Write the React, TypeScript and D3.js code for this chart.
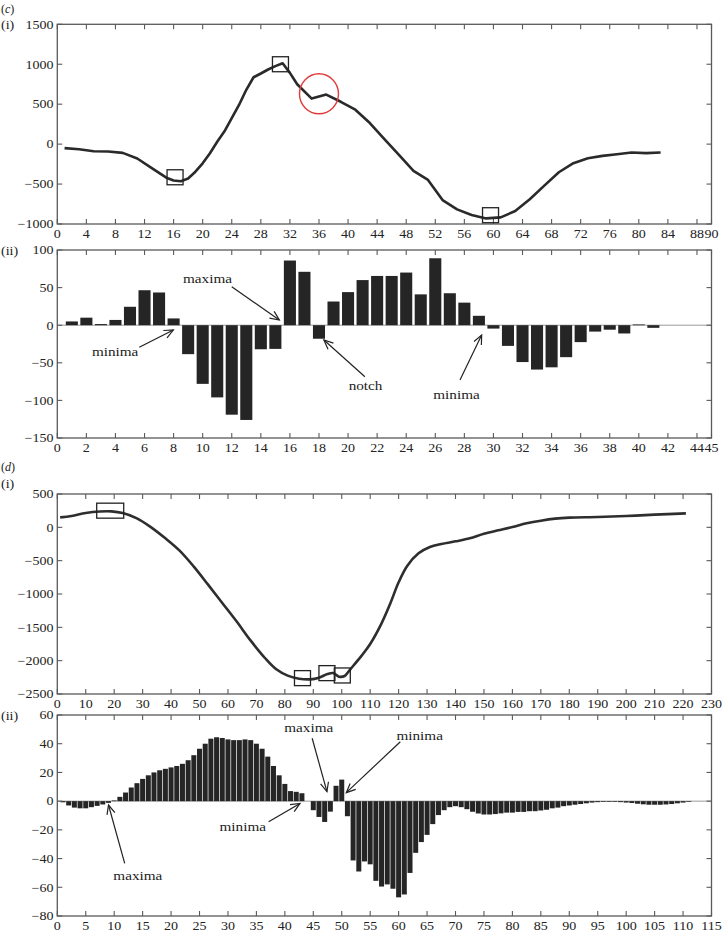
import React from 'react';
import * as d3 from 'd3';

// ---------- data ----------
// (c)(i) signal
const cLineX = [1, 3, 5, 7, 9, 11, 13, 15, 16, 17, 18, 19, 20, 21, 22, 23, 24, 25, 26, 27, 28, 29, 30, 31, 32, 33, 35, 37, 39, 41, 43, 45, 47, 49, 51, 53, 55, 57, 59, 61, 63, 65, 67, 69, 71, 73, 75, 77, 79, 81, 83];
const cLineY = [-50, -65, -90, -92, -110, -180, -300, -420, -455, -465, -430, -345, -240, -115, 30, 160, 325, 490, 680, 837, 884, 934, 976, 1012, 892, 750, 570, 620, 530, 431, 264, 63, -134, -335, -448, -700, -817, -888, -930, -917, -838, -691, -519, -352, -239, -176, -147, -126, -105, -113, -105];
const cSquareX = [16.2, 30.7, 59.6];
const cSquareY = [-415, 1000, -890];
const cCircleX = [36];
const cCircleY = [630];

// (c)(ii) derivative bars, index 1..41
const cBars = [5, 10, 1.5, 7, 24.5, 46.5, 43.5, 9, -38.5, -78, -96, -119, -126, -32, -31.5, 86, 71, -18, 31.5, 44, 60, 65.5, 65.5, 70, 41, 89, 42.5, 30, 12.5, -4.5, -27.5, -49, -59, -56, -42.5, -22.5, -8.5, -6, -11, 1, -3.5];

// (d)(i) signal
const dLineX = [1, 5, 10, 15, 19, 23, 28, 33, 38, 43, 48, 53, 58, 63, 68, 73, 77, 81, 85, 89, 92, 95, 97, 99, 101, 103, 107, 110, 114, 117, 120, 123, 127, 131, 135, 140, 145, 150, 155, 160, 165, 170, 175, 180, 190, 200, 210, 221];
const dLineY = [150, 170, 215, 238, 240, 215, 135, 0, -165, -350, -590, -860, -1135, -1410, -1700, -1960, -2130, -2225, -2270, -2280, -2255, -2200, -2185, -2240, -2230, -2130, -1925, -1750, -1440, -1150, -825, -580, -390, -295, -250, -210, -165, -95, -45, 5, 60, 100, 130, 145, 155, 170, 190, 210];
const dSquareX = [18.6, 86.2, 94.8, 100.2];
const dSquareY = [250, -2262, -2187, -2222];
const dSquareW = [27, 16, 16, 16];

// (d)(ii) derivative bars, index 1..111
const dBars = [-0.8, -3, -4.5, -5, -5, -4.2, -3.3, -2.3, -1.2, 0.5, 3, 6, 9.5, 12.5, 15.5, 18, 20, 21.5, 22.5, 23.5, 24.5, 26, 28.5, 32, 36.5, 40, 43.5, 44.5, 44, 43, 42.5, 42.5, 43, 42.5, 40, 36.5, 31, 24.5, 18, 12, 7, 6.5, 5.5, 0, -6.3, -11, -14.5, -7.3, 10.7, 15, -10.5, -41.3, -49, -42, -44, -55.5, -59.5, -58, -61, -67, -65, -50, -36, -28.5, -23.5, -16, -9.7, -6.3, -4.2, -3.5, -4.2, -5.6, -7.4, -8.6, -9.3, -9.3, -9, -8.5, -8, -8, -7.5, -7.5, -7, -7, -6.5, -6, -5, -4.5, -3.5, -3, -2.5, -2, -1.5, -1, -0.7, -0.5, -0.5, -0.5, -0.7, -1, -1.3, -1.8, -2.2, -2.5, -2.5, -2.5, -2.3, -2, -1.5, -1, -0.5];

// ticks
const c1XTicks = [0, 4, 8, 12, 16, 20, 24, 28, 32, 36, 40, 44, 48, 52, 56, 60, 64, 68, 72, 76, 80, 84, 88, 90];
const c1YTicks = [-1000, -500, 0, 500, 1000, 1500];
const c2XTicks = [0, 2, 4, 6, 8, 10, 12, 14, 16, 18, 20, 22, 24, 26, 28, 30, 32, 34, 36, 38, 40, 42, 44, 45];
const c2YTicks = [-150, -100, -50, 0, 50, 100];
const d1XTicks = [0, 10, 20, 30, 40, 50, 60, 70, 80, 90, 100, 110, 120, 130, 140, 150, 160, 170, 180, 190, 200, 210, 220, 230];
const d1YTicks = [-2500, -2000, -1500, -1000, -500, 0, 500];
const d2XTicks = [0, 5, 10, 15, 20, 25, 30, 35, 40, 45, 50, 55, 60, 65, 70, 75, 80, 85, 90, 95, 100, 105, 110, 115];
const d2YTicks = [-80, -60, -40, -20, 0, 20, 40, 60];

// annotations: [label, textX, textY, arrowFromX, arrowFromY, arrowToX, arrowToY] in data units
const c2Notes: [string, number, number, number, number, number, number][] = [
  ['maxima', 10.33, 56, 12.0, 51.2, 15.27, 6.9],
  ['minima', 3.98, -41, 5.64, -29.4, 7.98, -6.4],
  ['notch', 21.2, -86, 21.16, -68.5, 18.34, -19.7],
  ['minima', 27.46, -98.8, 27.7, -72.9, 29.19, -13],
];
const d2Notes: [string, number, number, number, number, number, number][] = [
  ['maxima', 14.15, -54.9, 11.85, -43.3, 9.0, -2.7],
  ['minima', 32.6, -20.8, 37.15, -14.4, 42.66, -1.6],
  ['maxima', 44.2, 48.5, 44.8, 43.8, 47.4, 6.6],
  ['minima', 63.7, 42.6, 60.3, 41.4, 50.8, 5.9],
];

// ---------- layout ----------
const W = 723, H = 933;
const L = 57.3, R = 711.5;
const FONT = '"Liberation Serif","Times New Roman",serif';
const SX = 1.17;
const INK = '#222';
const FRAME = '#5a5a5a';

const fmt = (t: number) => (t < 0 ? '\u2212' : '') + Math.abs(t);

function Txt({ x, y, anchor = 'middle', size = 12, italic = false, children }: any) {
  return (
    <text
      transform={`translate(${x},${y}) scale(${SX},1)`}
      textAnchor={anchor}
      fontSize={size}
      fontFamily={FONT}
      fontStyle={italic ? 'italic' : 'normal'}
      fill={INK}
    >
      {children}
    </text>
  );
}

function Axes({ x, y, xTicks, yTicks }: any) {
  const [x0, x1] = x.range();
  const [yb, yt] = y.range();
  return (
    <g>
      {xTicks.map((t: number) => (
        <g key={'x' + t}>
          <line x1={x(t)} x2={x(t)} y1={yb} y2={yb - 5} stroke={FRAME} strokeWidth={1.1} />
          <line x1={x(t)} x2={x(t)} y1={yt} y2={yt + 5} stroke={FRAME} strokeWidth={1.1} />
          <Txt x={x(t)} y={yb + 13.5}>{fmt(t)}</Txt>
        </g>
      ))}
      {yTicks.map((t: number) => (
        <g key={'y' + t}>
          <line x1={x0} x2={x0 + 5} y1={y(t)} y2={y(t)} stroke={FRAME} strokeWidth={1.1} />
          <line x1={x1} x2={x1 - 5} y1={y(t)} y2={y(t)} stroke={FRAME} strokeWidth={1.1} />
          <Txt x={53.5} y={y(t) + 4.3} anchor="end">{fmt(t)}</Txt>
        </g>
      ))}
      <rect x={x0} y={yt} width={x1 - x0} height={yb - yt} fill="none" stroke={FRAME} strokeWidth={1.3} />
    </g>
  );
}

function Arrow({ x1, y1, x2, y2 }: any) {
  const a = Math.atan2(y2 - y1, x2 - x1);
  const len = 10, spread = 0.42;
  const h1x = x2 - len * Math.cos(a - spread), h1y = y2 - len * Math.sin(a - spread);
  const h2x = x2 - len * Math.cos(a + spread), h2y = y2 - len * Math.sin(a + spread);
  return (
    <g stroke={INK} strokeWidth={1.2} fill="none">
      <line x1={x1} y1={y1} x2={x2} y2={y2} />
      <polyline points={`${h1x},${h1y} ${x2},${y2} ${h2x},${h2y}`} />
    </g>
  );
}

function Notes({ notes, x, y }: any) {
  return (
    <g>
      {notes.map((n: any, i: number) => (
        <g key={i}>
          <Txt x={x(n[1])} y={y(n[2])} size={13}>{n[0]}</Txt>
          <Arrow x1={x(n[3])} y1={y(n[4])} x2={x(n[5])} y2={y(n[6])} />
        </g>
      ))}
    </g>
  );
}

export default function App() {
  // scales
  const xc1 = d3.scaleLinear().domain([0, 90]).range([L, R]);
  const yc1 = d3.scaleLinear().domain([-1000, 1500]).range([224, 24.3]);
  const xc2 = d3.scaleLinear().domain([0, 45]).range([L, R]);
  const yc2 = d3.scaleLinear().domain([-150, 100]).range([438, 250]);
  const xd1 = d3.scaleLinear().domain([0, 230]).range([L, R]);
  const yd1 = d3.scaleLinear().domain([-2500, 500]).range([694, 494]);
  const xd2 = d3.scaleLinear().domain([0, 115]).range([L, R]);
  const yd2 = d3.scaleLinear().domain([-80, 60]).range([916, 715]);

  const cLine = d3.line<number>().x((_, i) => xc1(cLineX[i])).y((v) => yc1(v)).curve(d3.curveLinear)(cLineY) || '';
  const dLine = d3.line<number>().x((_, i) => xd1(dLineX[i])).y((v) => yd1(v)).curve(d3.curveCatmullRom.alpha(0.5))(dLineY) || '';

  const cBW = (xc2(1) - xc2(0)) * 0.83;
  const dBW = (xd2(1) - xd2(0)) * 0.88;

  return (
    <svg width={W} height={H} style={{ position: 'absolute', left: 0, top: 0, background: '#fff' }}>
      <rect x={0} y={0} width={W} height={H} fill="#fff" />

      {/* panel labels */}
      <text x={1} y={13} fontSize={12} fontFamily={FONT} fill={INK}>(<tspan fontStyle="italic">c</tspan>)</text>
      <Txt x={1} y={28.5} anchor="start">(i)</Txt>
      <Txt x={1} y={254.5} anchor="start">(ii)</Txt>
      <text x={1} y={471} fontSize={12} fontFamily={FONT} fill={INK}>(<tspan fontStyle="italic">d</tspan>)</text>
      <Txt x={1} y={488} anchor="start">(i)</Txt>
      <Txt x={1} y={719.5} anchor="start">(ii)</Txt>

      {/* (c)(i) */}
      <Axes x={xc1} y={yc1} xTicks={c1XTicks} yTicks={c1YTicks} />
      <path d={cLine} fill="none" stroke="#2a2a2a" strokeWidth={2.6} strokeLinejoin="round" />
      {cSquareX.map((sx, i) => (
        <rect key={i} x={xc1(sx) - 8} y={yc1(cSquareY[i]) - 7.5} width={16} height={15} fill="none" stroke={INK} strokeWidth={1.3} />
      ))}
      {cCircleX.map((cx, i) => (
        <ellipse key={i} cx={xc1(cx)} cy={yc1(cCircleY[i])} rx={19.5} ry={20} fill="none" stroke="#e23b3b" strokeWidth={1.4} />
      ))}

      {/* (c)(ii) */}
      <line x1={L} x2={R} y1={yc2(0)} y2={yc2(0)} stroke="#9a9a9a" strokeWidth={1} />
      {cBars.map((v, i) => (
        <rect key={i} x={xc2(i + 1) - cBW / 2} y={yc2(Math.max(0, v))} width={cBW} height={Math.abs(yc2(v) - yc2(0))} fill="#252525" />
      ))}
      <Axes x={xc2} y={yc2} xTicks={c2XTicks} yTicks={c2YTicks} />
      <Notes notes={c2Notes} x={xc2} y={yc2} />

      {/* (d)(i) */}
      <Axes x={xd1} y={yd1} xTicks={d1XTicks} yTicks={d1YTicks} />
      <path d={dLine} fill="none" stroke="#2e2e2e" strokeWidth={2.6} strokeLinejoin="round" />
      {dSquareX.map((sx, i) => (
        <rect key={i} x={xd1(sx) - dSquareW[i] / 2} y={yd1(dSquareY[i]) - 7.5} width={dSquareW[i]} height={15} fill="none" stroke={INK} strokeWidth={1.3} />
      ))}

      {/* (d)(ii) */}
      <line x1={L} x2={R} y1={yd2(0)} y2={yd2(0)} stroke="#9a9a9a" strokeWidth={1} />
      {dBars.map((v, i) => (
        <rect key={i} x={xd2(i + 1) - dBW / 2} y={yd2(Math.max(0, v))} width={dBW} height={Math.abs(yd2(v) - yd2(0))} fill="#252525" />
      ))}
      <Axes x={xd2} y={yd2} xTicks={d2XTicks} yTicks={d2YTicks} />
      <Notes notes={d2Notes} x={xd2} y={yd2} />
    </svg>
  );
}
